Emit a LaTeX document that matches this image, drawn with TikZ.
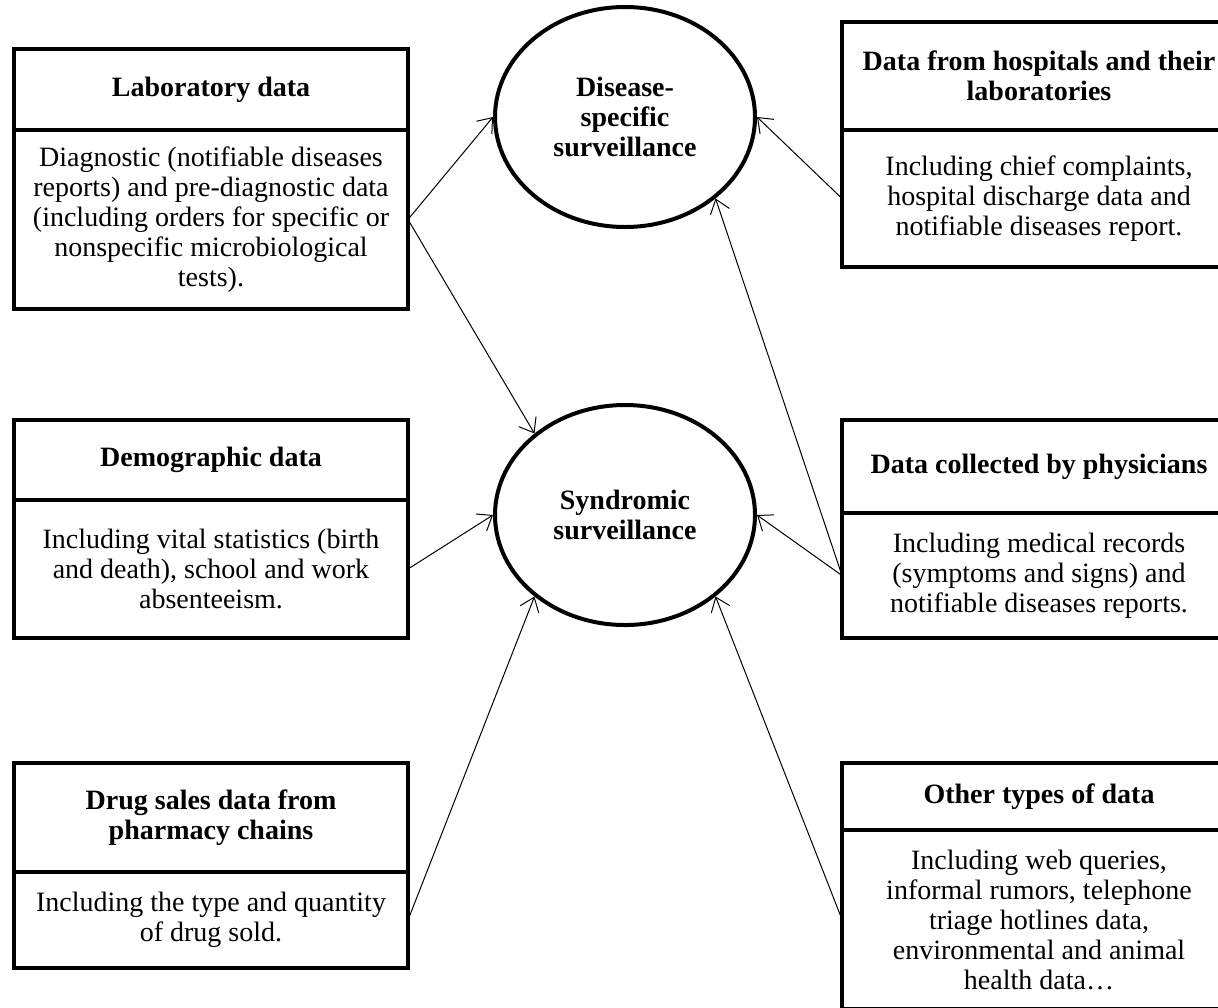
\documentclass[tikz,border=0pt]{standalone}
\usepackage{fontspec}
\setmainfont{Liberation Serif}
\usepackage{tikz}
\usetikzlibrary{shapes.geometric,arrows.meta,positioning}

\begin{document}
\begin{tikzpicture}[x=0.5pt, y=-0.5pt, font=\fontsize{14}{15}\selectfont,
  hd/.style={draw,line width=1.75pt,outer sep=0pt,minimum width=197pt,align=center,
    font=\fontsize{14}{15}\selectfont\bfseries,anchor=north west},
  bd/.style={draw,line width=1.75pt,outer sep=0pt,minimum width=197pt,align=center},
  sv/.style={ellipse,draw,line width=2pt,minimum width=130pt,minimum height=110pt,align=center,
    font=\fontsize{14}{15}\selectfont\bfseries},
  ar/.style={line width=0.5pt,-{Straight Barb[length=6.5pt,width=10pt]}}]
\useasboundingbox (0,0) rectangle (1218,1007);
\node[sv] (dis) at (625,117) {Disease-\\specific\\surveillance};
\node[sv] (syn) at (625,515) {Syndromic\\surveillance};
\node[hd,minimum height=40.5pt] (labh) at (14,49) {Laboratory data};
\node[bd,minimum height=89.5pt,below=0pt of labh] (lab) {Diagnostic (notifiable diseases\\reports) and pre-diagnostic data\\(including orders for specific or\\nonspecific microbiological\\tests).};
\node[hd,minimum height=40pt] (demh) at (14,420) {Demographic data};
\node[bd,minimum height=69pt,below=0pt of demh] (dem) {Including vital statistics (birth\\and death), school and work\\absenteeism.};
\node[hd,minimum height=54.5pt] (drugh) at (14,763) {Drug sales data from\\pharmacy chains};
\node[bd,minimum height=48pt,below=0pt of drugh] (drug) {Including the type and quantity\\of drug sold.};
\node[hd,minimum height=54pt] (hosph) at (842,22) {Data from hospitals and their\\laboratories};
\node[bd,minimum height=68.5pt,below=0pt of hosph] (hosp) {Including chief complaints,\\hospital discharge data and\\notifiable diseases report.};
\node[hd,minimum height=46.5pt] (physh) at (842,420) {Data collected by physicians};
\node[bd,minimum height=62.5pt,below=0pt of physh] (phys) {Including medical records\\(symptoms and signs) and\\notifiable diseases reports.};
\node[hd,minimum height=33.5pt] (othh) at (842,763) {Other types of data};
\node[bd,minimum height=89.5pt,below=0pt of othh] (oth) {Including web queries,\\informal rumors, telephone\\triage hotlines data,\\environmental and animal\\health data…};
\foreach \a/\b in {lab.east/dis.west, lab.east/syn.138, dem.east/syn.west, drug.east/syn.222,
  hosp.west/dis.east, phys.west/dis.318, phys.west/syn.east, oth.west/syn.318}
  \draw[ar] (\a) -- (\b);
\end{tikzpicture}
\end{document}
